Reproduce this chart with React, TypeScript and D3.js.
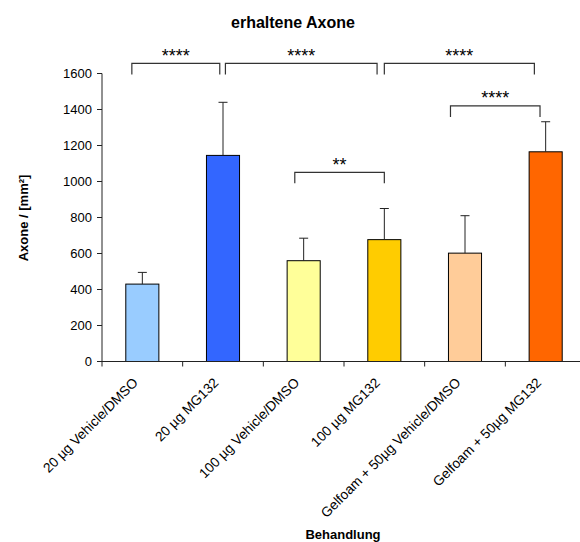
import React from "react";
import * as d3 from "d3";

// Treatment groups, mean values and standard deviations
const categories = [
  "20 µg Vehicle/DMSO",
  "20 µg MG132",
  "100 µg Vehicle/DMSO",
  "100 µg MG132",
  "Gelfoam + 50µg Vehicle/DMSO",
  "Gelfoam + 50µg MG132",
];
const means = [430, 1145, 560, 677, 602, 1165];
const errors = [65, 295, 125, 173, 208, 167];
const barColors = ["#99CCFF", "#3366FF", "#FFFF99", "#FFCC00", "#FFCC99", "#FF6600"];
const yTicks = [0, 200, 400, 600, 800, 1000, 1200, 1400, 1600];

// Significance brackets: start/end in category positions, height in axis units
const bracketFrom = [-0.13, 1.03, 3.0, 1.89, 3.82];
const bracketTo = [0.96, 2.91, 4.86, 3.0, 4.93];
const bracketLevel = [1656, 1656, 1656, 1051, 1420];
const bracketLabels = ["****", "****", "****", "**", "****"];

const W = 580;
const H = 542;

export default function App() {
  const x = d3.scaleBand<string>().domain(categories).range([102, 586]).padding(0);
  const y = d3.scaleLinear().domain([0, 1600]).range([361.5, 73.5]);
  const bw = x.bandwidth();
  const barW = bw * 0.41;
  const cx = (i: number) => (x(categories[0]) as number) + bw * (i + 0.5);
  const font = "'Liberation Sans', Arial, sans-serif";
  const axisColor = "#222";

  return (
    <svg
      width={W}
      height={H}
      style={{ position: "absolute", left: 0, top: 0, background: "#fff" }}
      fontFamily={font}
    >
      <text x={293} y={28} textAnchor="middle" fontSize={16} fontWeight="bold">
        erhaltene Axone
      </text>

      {/* bars */}
      {categories.map((c, i) => (
        <rect
          key={c}
          x={cx(i) - barW / 2}
          y={y(means[i])}
          width={barW}
          height={y(0) - y(means[i])}
          fill={barColors[i]}
          stroke="#000"
          strokeWidth={1}
        />
      ))}

      {/* error bars */}
      {categories.map((c, i) => (
        <g key={"e" + c} stroke="#222" strokeWidth={1}>
          <line x1={cx(i)} x2={cx(i)} y1={y(means[i])} y2={y(means[i] + errors[i])} />
          <line
            x1={cx(i) - 4.5}
            x2={cx(i) + 4.5}
            y1={y(means[i] + errors[i])}
            y2={y(means[i] + errors[i])}
          />
        </g>
      ))}

      {/* y axis */}
      <line x1={102} x2={102} y1={y(1600)} y2={y(0)} stroke={axisColor} />
      {yTicks.map((t) => (
        <g key={t}>
          <line x1={97} x2={102} y1={y(t)} y2={y(t)} stroke={axisColor} />
          <text x={92} y={y(t)} dy="0.35em" textAnchor="end" fontSize={13}>
            {t}
          </text>
        </g>
      ))}
      <text
        transform={`translate(23,218) rotate(-90)`}
        textAnchor="middle"
        fontSize={13}
        fontWeight="bold"
        dy="0.35em"
      >
        Axone / [mm²]
      </text>

      {/* x axis */}
      <line x1={97} x2={580} y1={y(0)} y2={y(0)} stroke={axisColor} />
      {categories.map((c) => (
        <line
          key={"t" + c}
          x1={x(c) as number}
          x2={x(c) as number}
          y1={y(0)}
          y2={y(0) + 5}
          stroke={axisColor}
        />
      ))}
      {categories.map((c, i) => (
        <text
          key={"l" + c}
          transform={`translate(${cx(i) - 3.5},${y(0) + 22}) rotate(-45)`}
          textAnchor="end"
          fontSize={13.7}
        >
          {c}
        </text>
      ))}
      <text x={343} y={539} textAnchor="middle" fontSize={13} fontWeight="bold">
        Behandlung
      </text>

      {/* significance brackets */}
      {bracketLabels.map((lab, k) => {
        const x1 = cx(bracketFrom[k]);
        const x2 = cx(bracketTo[k]);
        const yy = y(bracketLevel[k]);
        return (
          <g key={"b" + k}>
            <path
              d={`M${x1},${yy + 11}V${yy}H${x2}V${yy + 11}`}
              fill="none"
              stroke="#333"
              strokeWidth={1.2}
            />
            <text x={(x1 + x2) / 2} y={yy - 1.5} textAnchor="middle" fontSize={18}>
              {lab}
            </text>
          </g>
        );
      })}
    </svg>
  );
}
